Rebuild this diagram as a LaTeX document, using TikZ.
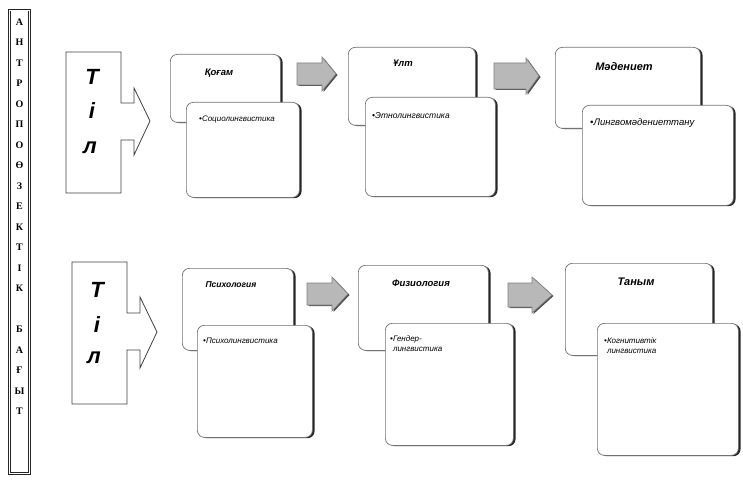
\documentclass[tikz,border=0pt]{standalone}
\usepackage{fontspec}
\setmainfont{Liberation Serif}
\setsansfont{Liberation Sans}
\usetikzlibrary{shadows}
\tikzset{
  shadowed/.style={drop shadow={shadow xshift=2.2pt,shadow yshift=-0.8pt,fill=black!85,opacity=1}},
  backbox/.style={draw=black!55,line width=0.7pt,fill=white,rounded corners=7pt,anchor=north west,inner sep=0pt,shadowed},
  frontbox/.style={draw=black!55,line width=0.7pt,fill=white,rounded corners=7pt,anchor=north west,inner sep=0pt,shadowed},
  ttl/.style={font=\sffamily\bfseries\itshape,inner sep=0pt},
  sub/.style={font=\sffamily\itshape\fontsize{8}{10}\selectfont,anchor=west,align=left,inner sep=0pt},
  tilbox/.style={draw=black!75,line width=0.8pt,fill=white},
  tillet/.style={font=\sffamily\bfseries\itshape\fontsize{22}{22}\selectfont,inner sep=0pt},
  barlet/.style={font=\rmfamily\bfseries\fontsize{10}{10}\selectfont,inner sep=0pt},
  garrow/.style={fill=black!28,draw=black!50,line width=0.6pt,drop shadow={shadow xshift=1.5pt,shadow yshift=-1pt,fill=black!70,opacity=1}}
}
\newcommand\grayarr[7]{% name, x0, xh, xt, ym, bodyhalf, headhalf
  \draw[garrow] (#2,#5-#6) -- (#3,#5-#6) -- (#3,#5-#7) -- (#4,#5) -- (#3,#5+#7) -- (#3,#5+#6) -- (#2,#5+#6) -- cycle;
  \coordinate (#1) at (#4,#5);}
\begin{document}
\begin{tikzpicture}[x=1pt,y=-1pt]
\useasboundingbox (0,0) rectangle (743,481);
% left vertical bar
\node[draw=black!85,double,double distance=1.2pt,line width=0.6pt,minimum width=20pt,minimum height=463pt,anchor=north west,inner sep=0pt] (bar) at (9,10) {};
\foreach \l [count=\i from 0] in {А,Н,Т,Р,О,П,О,Ө,З,Е,К,Т,І,К} {
  \node[barlet] (bl\i) at (19.5,{22+20.5*\i}) {\l};
}
\foreach \l [count=\i from 15] in {Б,А,Ғ,Ы,Т} {
  \node[barlet] (bl\i) at (19.5,{22+20.5*\i}) {\l};
}
% Til shapes
\draw[tilbox] (66,52) -- (121,52) -- (121,103) -- (134,103) -- (134,88) -- (150,121) -- (134,155) -- (134,140) -- (121,140) -- (121,193) -- (66,193) -- cycle;
\node[tillet] (ta1) at (92,77) {Т};
\node[tillet] (ta2) at (92,111) {і};
\node[tillet] (ta3) at (90,148) {л};
\draw[tilbox] (72,262) -- (127,262) -- (127,313) -- (140,313) -- (140,297) -- (157,332) -- (140,368) -- (140,350) -- (127,350) -- (127,404) -- (72,404) -- cycle;
\node[tillet] (tb1) at (97,290) {Т};
\node[tillet] (tb2) at (97,325) {і};
\node[tillet] (tb3) at (94,358) {л};
% top row
\node[backbox,minimum width=110pt,minimum height=68pt] (b1) at (170,54) {};
\node[ttl,font=\sffamily\bfseries\itshape\fontsize{9.5}{9.5}\selectfont] (t1) at (219,73) {Қоғам};
\node[frontbox,minimum width=113pt,minimum height=95pt] (f1) at (186,102) {};
\node[sub] (s1) at (199,120) {•Социолингвистика};
\grayarr{a1}{297}{322}{336}{74}{11}{17}
\node[backbox,minimum width=127pt,minimum height=78pt] (b2) at (348,47) {};
\node[ttl,font=\sffamily\bfseries\itshape\fontsize{9.5}{9.5}\selectfont] (t2) at (403,63) {Ұлт};
\node[frontbox,minimum width=130pt,minimum height=99pt] (f2) at (365,97) {};
\node[sub,font=\sffamily\itshape\fontsize{8.5}{10}\selectfont] (s2) at (372,116) {•Этнолингвистика};
\grayarr{a2}{494}{526}{539}{76}{13}{18}
\node[backbox,minimum width=145pt,minimum height=81pt] (b3) at (555,47) {};
\node[ttl,font=\sffamily\bfseries\itshape\fontsize{11}{11}\selectfont] (t3) at (624,67) {Мәдениет};
\node[frontbox,minimum width=151pt,minimum height=100pt] (f3) at (582,105) {};
\node[sub,font=\sffamily\itshape\fontsize{9.5}{11}\selectfont] (s3) at (590,123) {•Лингвомәдениеттану};
% bottom row
\node[backbox,minimum width=111pt,minimum height=82pt] (b4) at (182,268) {};
\node[ttl,font=\sffamily\bfseries\itshape\fontsize{8.5}{8.5}\selectfont] (t4) at (231,285) {Психология};
\node[frontbox,minimum width=115pt,minimum height=112pt] (f4) at (197,325) {};
\node[sub] (s4) at (203,341) {•Психолингвистика};
\grayarr{a3}{307}{332}{348}{294}{11}{17}
\node[backbox,minimum width=130pt,minimum height=85pt] (b5) at (358,265) {};
\node[ttl,font=\sffamily\bfseries\itshape\fontsize{9.5}{9.5}\selectfont] (t5) at (421,283) {Физиология};
\node[frontbox,minimum width=128pt,minimum height=122pt] (f5) at (385,323) {};
\node[sub,anchor=north west] (s5) at (390,335) {•Гендер-\\\hphantom{•}лингвистика};
\grayarr{a4}{508}{532}{552}{295}{12}{18}
\node[backbox,minimum width=147pt,minimum height=92pt] (b6) at (565,263) {};
\node[ttl,font=\sffamily\bfseries\itshape\fontsize{11}{11}\selectfont] (t6) at (636,282) {Таным};
\node[frontbox,minimum width=141pt,minimum height=132pt] (f6) at (597,323) {};
\node[sub,anchor=north west] (s6) at (604,337) {•Когнитивтік\\\hphantom{•}лингвистика};
\end{tikzpicture}
\end{document}
